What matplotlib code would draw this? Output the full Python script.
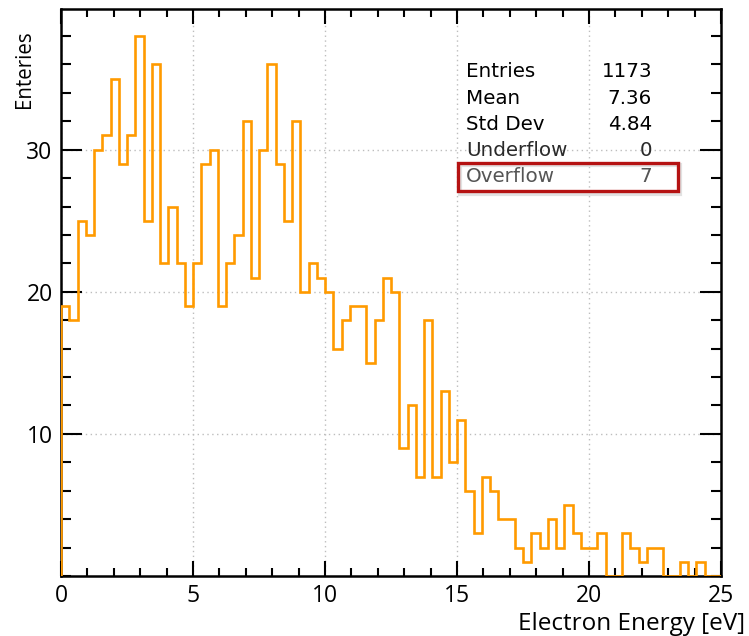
import numpy as np
import matplotlib
matplotlib.use("Agg")
import matplotlib.pyplot as plt
from matplotlib.ticker import MultipleLocator
from matplotlib.patches import Rectangle

# ---- data ----
bin_low, bin_high, n_bins = 0.0, 25.0, 80
counts = [19, 18, 25, 24, 30, 31, 35, 29, 31, 38, 25, 36, 22, 26, 22, 19,
          22, 29, 30, 19, 22, 24, 32, 21, 30, 36, 29, 25, 32, 20, 22, 21,
          20, 16, 18, 19, 19, 15, 18, 21, 20, 9, 12, 7, 18, 7, 13, 8,
          11, 6, 3, 7, 6, 4, 4, 2, 1, 3, 2, 4, 2, 5, 3, 2,
          2, 3, 0, 0, 3, 2, 1, 2, 2, 0, 0, 1, 0, 1, 0, 0]
x_ticks = [0, 5, 10, 15, 20, 25]
y_ticks = [10, 20, 30]
stat_names = ["Entries", "Mean", "Std Dev", "Underflow", "Overflow"]
stat_values = ["1173", "7.36", "4.84", "0", "7"]

W, H = 749, 636
fig = plt.figure(figsize=(W / 100, H / 100), dpi=100)
ax = fig.add_axes([61 / W, 1 - 576 / H, (721 - 61) / W, (576 - 9) / H])

edges = np.linspace(bin_low, bin_high, n_bins + 1)
ax.stairs(counts, edges, color="#FF9A00", linewidth=1.9, baseline=0, zorder=3)

ax.set_xlim(bin_low, bin_high)
ax.set_ylim(0, max(counts) * 1.05)

ax.set_xticks(x_ticks)
ax.set_yticks(y_ticks)
ax.xaxis.set_minor_locator(MultipleLocator(1))
ax.yaxis.set_minor_locator(MultipleLocator(2))

ax.grid(True, which="major", linestyle=(0, (1, 2.5)), color="#bdbdbd", linewidth=1.0, zorder=1)

tick_font = dict(family=["Open Sans", "DejaVu Sans"], size=16.5)
ax.set_xticklabels([str(t) for t in x_ticks], **tick_font)
ax.set_yticklabels([str(t) for t in y_ticks], **tick_font)

ax.tick_params(axis="both", which="both", direction="in", top=True, right=True,
               width=1.5, color="black")
ax.tick_params(axis="x", which="major", length=11, pad=6)
ax.tick_params(axis="x", which="minor", length=6)
ax.tick_params(axis="y", which="major", length=15, pad=6)
ax.tick_params(axis="y", which="minor", length=7)

for sp in ax.spines.values():
    sp.set_linewidth(1.8)
    sp.set_color("black")

fig.text(745 / W, 1 - 624 / H, "Electron Energy [eV]", ha="right", va="center",
         family=["Open Sans", "DejaVu Sans"], size=17.5)
fig.text(24 / W, 1 - 69 / H, "Enteries", ha="center", va="center", rotation=90,
         family=["Open Sans", "DejaVu Sans"], size=14.8)

# stats box
baselines = [76.7, 103.5, 130, 156.5, 182.5]
colors = ["black", "black", "black", "#2a2a2a", "#555555"]
for name, val, yb, c in zip(stat_names, stat_values, baselines, colors):
    fig.text(466 / W, 1 - yb / H, name, ha="left", va="baseline",
             family=["DejaVu Sans"], size=14.3, color=c)
    fig.text(652 / W, 1 - yb / H, val, ha="right", va="baseline",
             family=["DejaVu Sans"], size=14.3, color=c)

shadow = Rectangle((460 / W, 1 - 194 / H), 220 / W, 29 / H, transform=fig.transFigure,
                   fill=False, edgecolor="#e2e2e2", linewidth=3, zorder=4)
fig.add_artist(shadow)
box = Rectangle((458 / W, 1 - 191 / H), 220 / W, 28 / H, transform=fig.transFigure,
                fill=False, edgecolor="#B51212", linewidth=2.4, zorder=5)
fig.add_artist(box)

fig.savefig("out.png", dpi=100)
